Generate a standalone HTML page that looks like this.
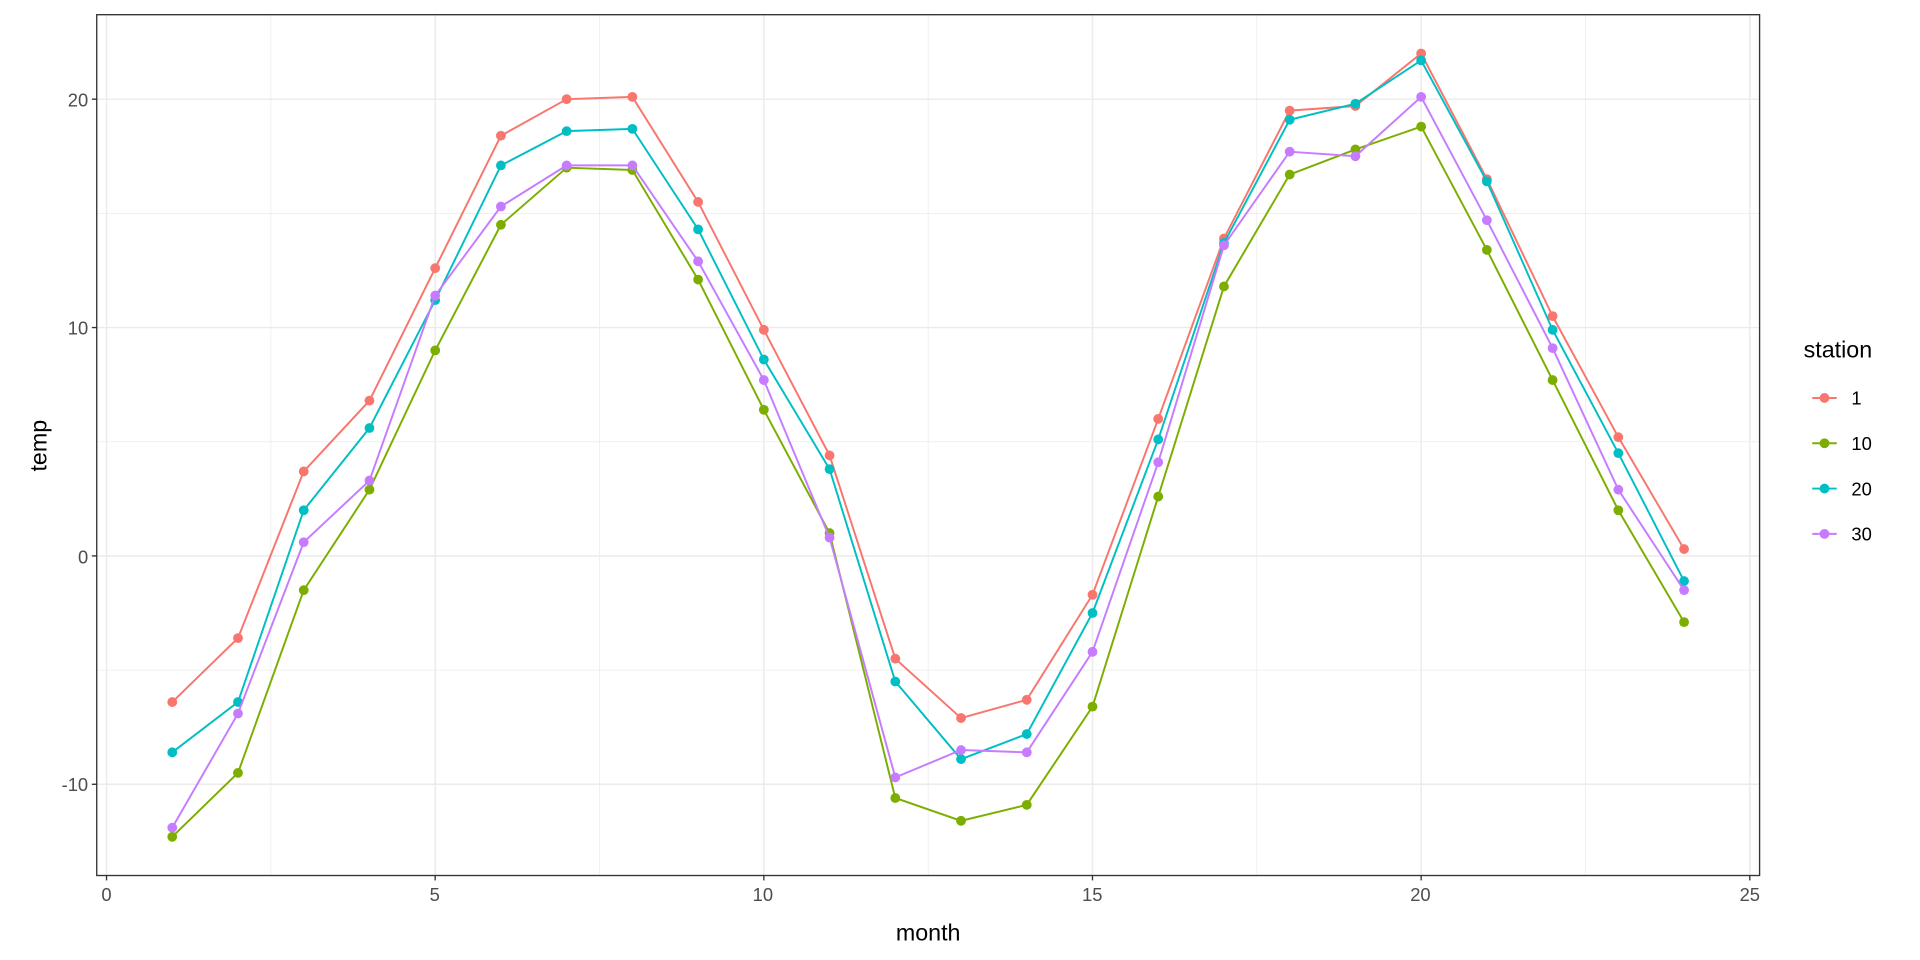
<!DOCTYPE html>
<html><head><meta charset="utf-8"><style>
html,body{margin:0;padding:0;background:#fff}
svg{display:block}
text{font-family:"Liberation Sans",Arial,sans-serif}
</style></head><body>
<svg id="s" width="1920" height="960" viewBox="0 0 1568 784" xmlns="http://www.w3.org/2000/svg">
<rect x="0" y="0" width="1568" height="784" fill="#fff"/>
<g id="grid"></g>
<g id="series"></g>
<rect x="79" y="12" width="1358" height="703" fill="none" stroke="#333" stroke-width="1.1"/>
<g font-size="15" fill="#4d4d4d" text-anchor="end">
<text x="72" y="87">20</text>
<text x="72" y="273">10</text>
<text x="72" y="460">0</text>
<text x="72" y="646">-10</text>
</g>
<g font-size="15" fill="#4d4d4d" text-anchor="middle">
<text x="87" y="736">0</text>
<text x="355" y="736">5</text>
<text x="623" y="736">10</text>
<text x="892" y="736">15</text>
<text x="1160" y="736">20</text>
<text x="1429" y="736">25</text>
</g>
<g id="ticks" stroke="#333" stroke-width="1.1"></g>
<text x="758" y="768" font-size="19" text-anchor="middle" fill="#000">month</text>
<text transform="translate(38,364) rotate(-90)" font-size="19" text-anchor="middle" fill="#000">temp</text>
<text x="1473" y="292" font-size="19" fill="#000">station</text>
<g id="legend" font-size="15" fill="#000"></g>
</svg>
<script>
var NS="http://www.w3.org/2000/svg";
function X(m){return 87+m*53.68}
function Y(v){return 454-v*18.65}
function el(p,t,a){var e=document.createElementNS(NS,t);for(var k in a)e.setAttribute(k,a[k]);document.getElementById(p).appendChild(e);return e}
// grid
[-5,5,15].forEach(function(v){el("grid","line",{x1:79,x2:1437,y1:Y(v),y2:Y(v),stroke:"#ebebeb","stroke-width":0.6})});
[2.5,7.5,12.5,17.5,22.5].forEach(function(v){el("grid","line",{x1:X(v),x2:X(v),y1:12,y2:715,stroke:"#ebebeb","stroke-width":0.6})});
[-10,0,10,20].forEach(function(v){el("grid","line",{x1:79,x2:1437,y1:Y(v),y2:Y(v),stroke:"#ebebeb","stroke-width":1.2});el("ticks","line",{x1:75,x2:79,y1:Y(v),y2:Y(v)})});
[0,5,10,15,20,25].forEach(function(v){el("grid","line",{x1:X(v),x2:X(v),y1:12,y2:715,stroke:"#ebebeb","stroke-width":1.2});el("ticks","line",{x1:X(v),x2:X(v),y1:715,y2:719})});
var D=[
["#F8766D","1",[-6.4,-3.6,3.7,6.8,12.6,18.4,20.0,20.1,15.5,9.9,4.4,-4.5,-7.1,-6.3,-1.7,6.0,13.9,19.5,19.7,22.0,16.5,10.5,5.2,0.3]],
["#7CAE00","10",[-12.3,-9.5,-1.5,2.9,9.0,14.5,17.0,16.9,12.1,6.4,1.0,-10.6,-11.6,-10.9,-6.6,2.6,11.8,16.7,17.8,18.8,13.4,7.7,2.0,-2.9]],
["#00BFC4","20",[-8.6,-6.4,2.0,5.6,11.2,17.1,18.6,18.7,14.3,8.6,3.8,-5.5,-8.9,-7.8,-2.5,5.1,13.7,19.1,19.8,21.7,16.4,9.9,4.5,-1.1]],
["#C77CFF","30",[-11.9,-6.9,0.6,3.3,11.4,15.3,17.1,17.1,12.9,7.7,0.8,-9.7,-8.5,-8.6,-4.2,4.1,13.6,17.7,17.5,20.1,14.7,9.1,2.9,-1.5]]];
D.forEach(function(s,i){
 var pts=s[2].map(function(v,j){return X(j+1)+","+Y(v)}).join(" ");
 el("series","polyline",{points:pts,fill:"none",stroke:s[0],"stroke-width":1.6});
 s[2].forEach(function(v,j){el("series","circle",{cx:X(j+1),cy:Y(v),r:4,fill:s[0]})});
 var ly=325+i*37;
 el("legend","line",{x1:1480,x2:1500,y1:ly,y2:ly,stroke:s[0],"stroke-width":1.6});
 el("legend","circle",{cx:1490,cy:ly,r:4,fill:s[0]});
 var t=el("legend","text",{x:1512,y:ly+5.5});t.textContent=s[1];
});
</script>
</body></html>
